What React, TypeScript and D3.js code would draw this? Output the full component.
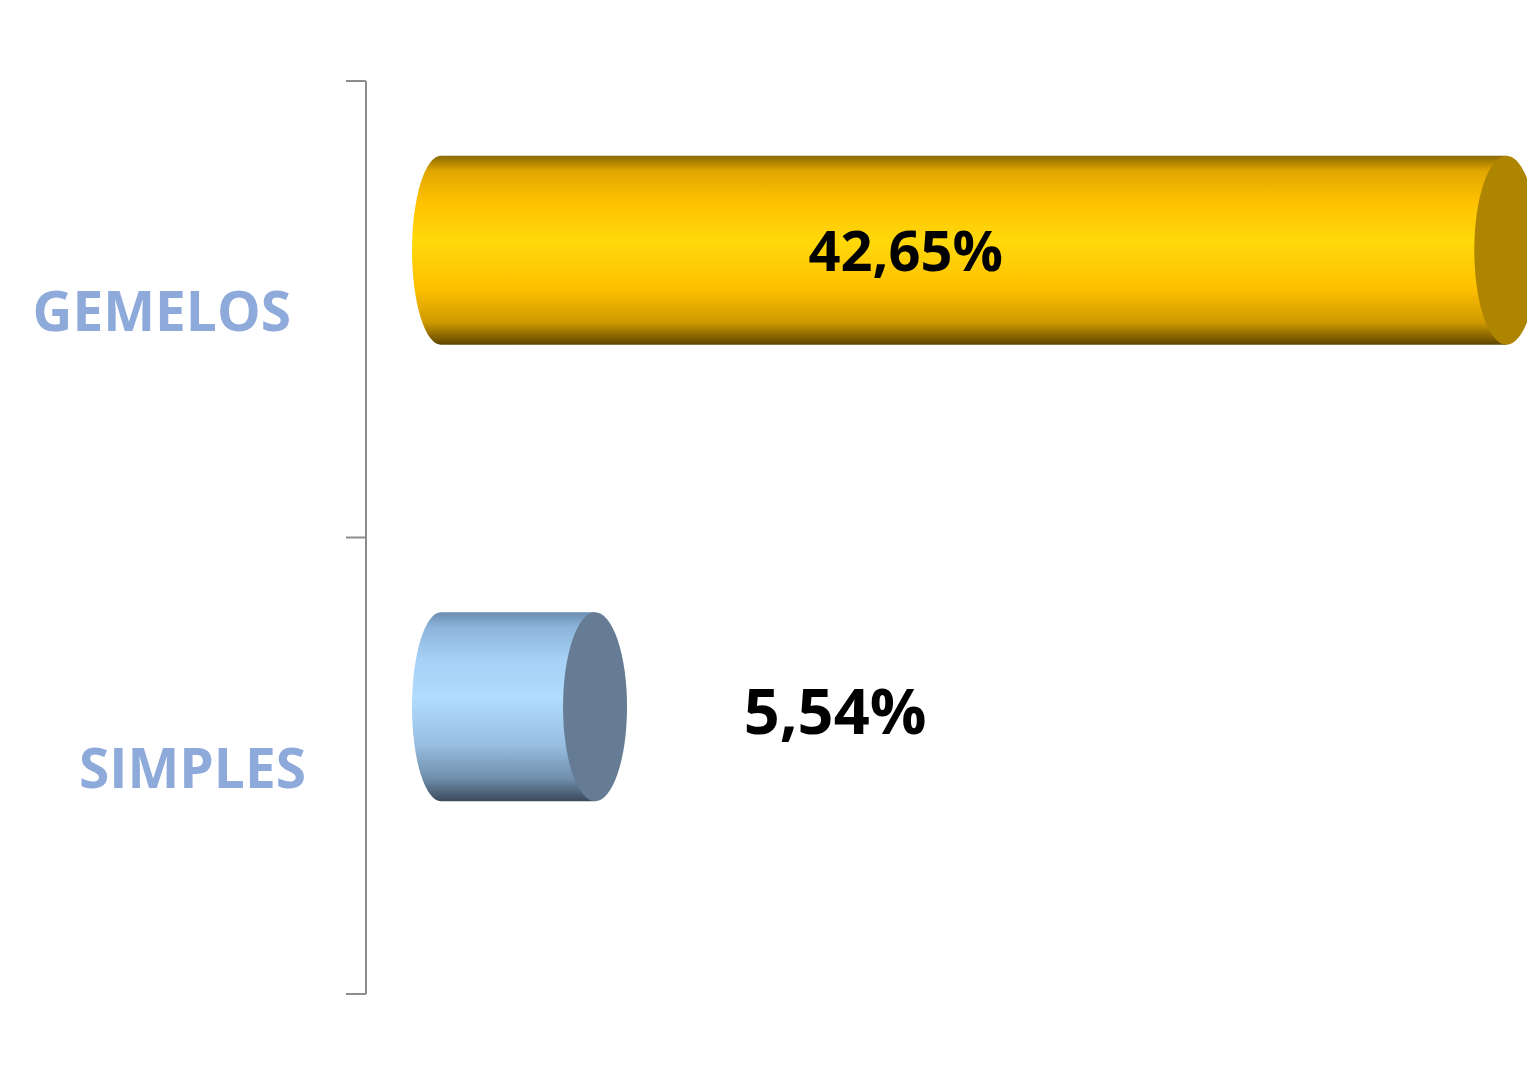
import React from 'react';
import * as d3 from 'd3';

const categories = ['GEMELOS', 'SIMPLES'];
const values = [42.65, 5.54];
const valueLabels = ['42,65%', '5,54%'];

const palettes = [
  { id: 'gold', cap: '#ad8500', stops: ['#8a6a00', '#e0a600', '#ffc200', '#ffd90a', '#ffc000', '#d09a00', '#5e4500'] },
  { id: 'blue', cap: '#657c94', stops: ['#6a8db0', '#8db5dc', '#a6d0f5', '#b0dcff', '#98bee0', '#6f8eac', '#3b4a5b'] },
];
const stopOffsets = [0, 0.08, 0.25, 0.45, 0.7, 0.88, 1];

const W = 1527;
const H = 1075;
const axisX = 366;
const depth = 59; // 3D shift of bars above band centre
const rxLeft = 29;
const rxCap = 32;
const labelRight = [291, 306];

const App: React.FC = () => {
  const y = d3.scaleBand<string>()
    .domain(categories)
    .range([81, 994])
    .paddingInner(0.586)
    .paddingOuter(0.293);

  const x = d3.scaleLinear().domain([0, 45]).range([459, 1564]);

  // tick positions at band boundaries
  const bandEdges = d3.range(categories.length + 1).map(i => 81 + ((994 - 81) / categories.length) * i);

  return (
    <svg width={W} height={H} style={{ position: 'absolute', left: 0, top: 0, background: '#fff' }}>
      <defs>
        {palettes.map(p => (
          <linearGradient key={p.id} id={`grad-${p.id}`} x1="0" y1="0" x2="0" y2="1">
            {p.stops.map((s, i) => (
              <stop key={i} offset={stopOffsets[i]} stopColor={s} />
            ))}
          </linearGradient>
        ))}
      </defs>

      {/* axis */}
      <line x1={axisX} x2={axisX} y1={bandEdges[0]} y2={bandEdges[bandEdges.length - 1]} stroke="#8c8c8c" strokeWidth={2} />
      {bandEdges.map((t, i) => (
        <line key={i} x1={axisX - 20} x2={axisX} y1={t} y2={t} stroke="#8c8c8c" strokeWidth={2} />
      ))}

      {/* category labels */}
      {categories.map((c, i) => {
        const mid = (bandEdges[i] + bandEdges[i + 1]) / 2;
        return (
          <text
            key={c}
            x={labelRight[i]}
            y={mid + 22}
            textAnchor="end"
            fontFamily="'Open Sans', sans-serif"
            fontWeight="bold"
            fontSize={55}
            fill="#8eaadb"
          >
            {c}
          </text>
        );
      })}

      {/* cylinders */}
      {categories.map((c, i) => {
        const top = (y(c) || 0) - depth;
        const h = y.bandwidth();
        const bottom = top + h;
        const cy = top + h / 2;
        const ry = h / 2;
        const x0 = x(0) - 18;
        const x1 = x(values[i]);
        const p = palettes[i];
        const body = `M${x0},${top} L${x1},${top} L${x1},${bottom} L${x0},${bottom} A${rxLeft},${ry} 0 0 1 ${x0},${top} Z`;
        const inside = values[i] > 20;
        const lx = inside ? (x0 + x1) / 2 - 68 : x1 + 240;
        return (
          <g key={c}>
            <path d={body} fill={`url(#grad-${p.id})`} />
            <ellipse cx={x1} cy={cy} rx={rxCap} ry={ry} fill={p.cap} />
            <text
              x={lx}
              y={cy + (inside ? 21 : 27)}
              textAnchor="middle"
              fontFamily="'Open Sans', sans-serif"
              fontWeight="bold"
              fontSize={inside ? 56 : 63}
              fill="#000"
            >
              {valueLabels[i]}
            </text>
          </g>
        );
      })}
    </svg>
  );
};

export default App;
